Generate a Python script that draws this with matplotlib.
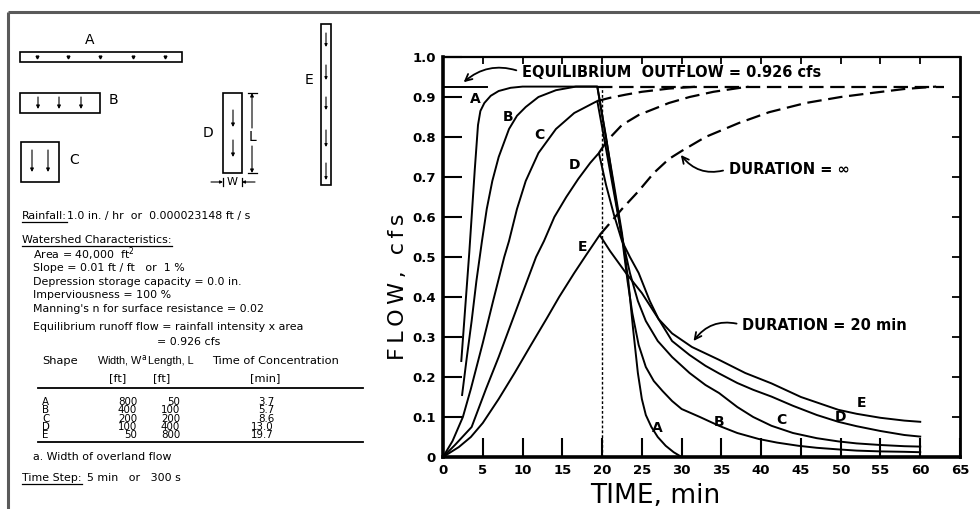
"""
Overland flow hydrographs for five watershed shapes (A-E) of equal area,
20-min storm vs. storm of infinite duration.
"""

import matplotlib
matplotlib.use("Agg")
import matplotlib.pyplot as plt
from matplotlib.patches import Rectangle

# =============================================================================
# VALUES
# =============================================================================

eq_flow = 0.926   # cfs, equilibrium outflow
storm_end = 20    # min, rainfall duration

# duration = 20 min hydrographs: time (min), flow (cfs)
a_time = [2.3, 3.3, 4.0, 4.4, 4.7, 5.2, 6.0, 7.0, 8.5, 10.0, 19.4,
          20.3, 21.5, 22.5, 23.3, 23.9, 24.5, 25.0, 25.5, 26.2, 27.0, 28.0, 29.0, 30.0]
a_flow = [0.24, 0.51, 0.72, 0.83, 0.865, 0.885, 0.903, 0.915, 0.923, 0.926, 0.926,
          0.82, 0.68, 0.56, 0.44, 0.32, 0.21, 0.145, 0.105, 0.075, 0.05, 0.028, 0.012, 0.0]

b_time = [2.4, 3.0, 3.6, 4.2, 4.9, 5.5, 6.2, 7.0, 8.3, 9.3, 10.4, 12.0, 14.2, 16.7, 19.4,
          20.5, 21.5, 22.5, 23.2, 23.8, 24.6, 25.5, 26.5, 27.6, 28.8, 30.0, 32.3, 34.7,
          37.0, 39.7, 42.0, 44.7, 47.0, 49.7, 52.0, 55.0, 58.0, 60.0]
b_flow = [0.155, 0.25, 0.34, 0.44, 0.54, 0.62, 0.69, 0.75, 0.82, 0.853, 0.875, 0.90, 0.917, 0.926, 0.926,
          0.80, 0.67, 0.55, 0.44, 0.36, 0.28, 0.225, 0.19, 0.165, 0.14, 0.12, 0.10, 0.078,
          0.06, 0.045, 0.036, 0.028, 0.023, 0.019, 0.016, 0.014, 0.013, 0.012]

c_time = [0, 1.2, 2.5, 3.5, 5.0, 6.3, 7.7, 8.3, 9.3, 10.4, 12.0, 14.2, 16.5, 19.4,
          20.5, 21.5, 22.5, 23.5, 24.5, 25.5, 27.0, 28.8, 31.0, 33.0, 34.7, 37.0, 39.0,
          41.3, 44.0, 47.0, 49.7, 52.0, 55.0, 58.0, 60.0]
c_flow = [0, 0.04, 0.10, 0.17, 0.285, 0.39, 0.50, 0.54, 0.62, 0.69, 0.76, 0.82, 0.86, 0.89,
          0.77, 0.66, 0.55, 0.46, 0.39, 0.34, 0.29, 0.25, 0.21, 0.18, 0.16, 0.125, 0.10,
          0.078, 0.06, 0.047, 0.039, 0.034, 0.03, 0.027, 0.026]

d_time = [0, 1.5, 3.6, 5.4, 7.0, 8.5, 10.0, 11.7, 12.7, 14.0, 15.5, 17.0, 18.5, 19.6,
          20.5, 21.5, 22.5, 23.5, 24.6, 26.0, 27.1, 28.8, 31.0, 33.0, 34.7, 37.0, 39.0,
          41.3, 44.0, 47.0, 49.7, 52.0, 55.0, 58.0, 60.0]
d_flow = [0, 0.03, 0.075, 0.17, 0.25, 0.33, 0.41, 0.50, 0.54, 0.60, 0.65, 0.695, 0.735, 0.76,
          0.68, 0.605, 0.54, 0.50, 0.46, 0.39, 0.345, 0.29, 0.255, 0.228, 0.209, 0.185, 0.168,
          0.151, 0.128, 0.105, 0.088, 0.077, 0.065, 0.055, 0.051]

e_time = [0, 2.0, 3.5, 5.0, 7.0, 9.0, 11.0, 13.0, 14.6, 16.5, 18.0, 19.7,
          21.0, 23.0, 25.0, 27.1, 28.8, 31.3, 34.7, 38.0, 41.3, 45.0, 49.7, 52.0, 55.0, 58.0, 60.0]
e_flow = [0, 0.025, 0.05, 0.085, 0.145, 0.21, 0.278, 0.345, 0.40, 0.46, 0.505, 0.555,
          0.515, 0.46, 0.41, 0.345, 0.309, 0.275, 0.243, 0.21, 0.184, 0.15, 0.118, 0.108, 0.098, 0.091, 0.088]

# duration = infinity (dashed) continuations
c_inf_time = [19.4, 21.0, 23.0, 25.0, 28.4, 32.0]
c_inf_flow = [0.89, 0.898, 0.906, 0.913, 0.921, 0.926]
d_inf_time = [19.6, 20.6, 22.5, 24.6, 26.5, 28.4, 31.0, 34.0, 38.4]
d_inf_flow = [0.76, 0.79, 0.83, 0.855, 0.87, 0.885, 0.90, 0.913, 0.926]
e_inf_time = [19.7, 21.0, 22.5, 24.6, 26.5, 28.4, 30.0, 33.0, 37.2, 41.0, 45.6, 50.0, 53.9, 58.0, 62.0]
e_inf_flow = [0.555, 0.585, 0.62, 0.665, 0.71, 0.745, 0.765, 0.80, 0.835, 0.862, 0.885, 0.90, 0.91, 0.92, 0.926]
eq_dash_time = [19.5, 63.0]

# curve letters and where they sit
shape_letters = ["A", "B", "C", "D", "E"]
rise_lab_t = [4.1, 8.2, 12.1, 16.5, 17.6]
rise_lab_q = [0.895, 0.85, 0.805, 0.73, 0.525]
fall_lab_t = [26.9, 34.7, 42.6, 50.0, 52.6]
fall_lab_q = [0.072, 0.088, 0.092, 0.10, 0.135]

# table on the left
tab_width = [800, 400, 200, 100, 50]
tab_length = [50, 100, 200, 400, 800]
tab_tc = ["3.7", "5.7", "8.6", "13.0", "19.7"]

x_ticks = list(range(0, 70, 5))
y_ticks = [0, 0.1, 0.2, 0.3, 0.4, 0.5, 0.6, 0.7, 0.8, 0.9, 1.0]
y_tick_labels = ["0", "0.1", "0.2", "0.3", "0.4", "0.5", "0.6", "0.7", "0.8", "0.9", "1.0"]

# =============================================================================
# FIGURE
# =============================================================================

W, H = 980, 509
fig = plt.figure(figsize=(9.8, 5.09), dpi=100)

# overlay in pixel coordinates for border, sketches and notes
bg = fig.add_axes([0, 0, 1, 1])
bg.set_xlim(0, W)
bg.set_ylim(H, 0)
bg.axis("off")

bg.plot([8, 8], [12, H], color="#5a5a5a", lw=2.2, solid_capstyle="butt")
bg.plot([8, W], [12, 12], color="#5a5a5a", lw=2.2, solid_capstyle="butt")


def small_arrow(x0, y0, x1, y1, ms=5):
    bg.annotate("", xy=(x1, y1), xytext=(x0, y0),
                arrowprops=dict(arrowstyle="-|>", lw=0.8, color="k",
                                mutation_scale=ms, shrinkA=0, shrinkB=0))


def box(x, y, w, h):
    bg.add_patch(Rectangle((x, y), w, h, fill=False, lw=1.2, ec="k"))


sk = dict(fontsize=10, family="DejaVu Sans", ha="center", va="center")
# A
box(20, 52, 162, 10)
bg.plot([37, 68, 100, 133, 165], [57] * 5, "v", color="k", ms=2)
bg.text(90, 40, "A", **sk)
# B
box(20, 93, 80, 20)
for xx in [38, 59, 81]:
    small_arrow(xx, 97, xx, 109)
bg.text(113, 100, "B", **sk)
# C
box(21, 142, 38, 40)
for xx in [32, 48]:
    small_arrow(xx, 150, xx, 172)
bg.text(74, 160, "C", **sk)
# D with dimensions
box(223, 93, 19, 80)
small_arrow(233, 110, 233, 127)
small_arrow(233, 140, 233, 157)
bg.text(208, 133, "D", **sk)
small_arrow(252, 128, 252, 93)
small_arrow(252, 146, 252, 173)
bg.plot([248, 257], [93, 93], color="k", lw=0.9)
bg.plot([248, 257], [173, 173], color="k", lw=0.9)
bg.text(252, 137, "L", **sk)
bg.plot([223, 223], [178, 186], color="k", lw=0.9)
bg.plot([242, 242], [178, 186], color="k", lw=0.9)
small_arrow(211, 182, 223, 182, ms=4)
small_arrow(255, 182, 242, 182, ms=4)
bg.text(232.5, 182, "W", fontsize=8, family="DejaVu Sans", ha="center", va="center")
# E
box(321, 24, 10, 161)
for y0, y1 in [(33, 47), (65, 80), (97, 110), (130, 147), (163, 180)]:
    small_arrow(326, y0, 326, y1, ms=4)
bg.text(309, 80, "E", **sk)

# notes
nt = dict(fontsize=7.9, family="DejaVu Sans", va="center", ha="left")
t_rain = bg.text(22, 216, "Rainfall:", **nt)
bg.text(67, 216, "1.0 in. / hr  or  0.000023148 ft / s", **nt)
t_ws = bg.text(22, 240, "Watershed Characteristics:", **nt)
notes = [
    (33, 254, "Area = 40,000  ft$^2$"),
    (33, 268, "Slope = 0.01 ft / ft   or  1 %"),
    (33, 282, "Depression storage capacity = 0.0 in."),
    (33, 295, "Imperviousness = 100 %"),
    (33, 309, "Manning's n for surface resistance = 0.02"),
    (33, 327, "Equilibrium runoff flow = rainfall intensity x area"),
    (157, 342, "= 0.926 cfs"),
]
for x, y, s in notes:
    bg.text(x, y, s, **nt)

tt = dict(fontsize=8.2, family="DejaVu Sans", va="center")
nn = dict(fontsize=7.8, family="Liberation Sans", va="center")
bg.text(42, 361, "Shape", ha="left", **tt)
bg.text(97, 361, "Width, W$^{\\rm a}$", ha="left", **nn)
bg.text(148, 361, "Length, L", ha="left", **nn)
bg.text(212, 361, "Time of Concentration", ha="left", **tt)
bg.text(118, 378, "[ft]", ha="center", **tt)
bg.text(162, 378, "[ft]", ha="center", **tt)
bg.text(265, 378, "[min]", ha="center", **tt)
bg.plot([38, 363], [388, 388], color="k", lw=1.3)
bg.plot([38, 363], [442, 442], color="k", lw=1.3)
rt = dict(fontsize=7.4, family="DejaVu Sans", va="center")
for i, letter in enumerate(shape_letters):
    yy = 402 + 8.3 * i
    bg.text(42, yy, letter, ha="left", **rt)
    bg.text(137, yy, str(tab_width[i]), ha="right", **rt)
    bg.text(180, yy, str(tab_length[i]), ha="right", **rt)
    bg.text(274, yy, tab_tc[i], ha="right", **rt)
bg.text(33, 457, "a. Width of overland flow", **nt)
t_step = bg.text(22, 478, "Time Step:", **nt)
bg.text(87, 478, "5 min   or   300 s", **nt)

# =============================================================================
# HYDROGRAPH PANEL
# =============================================================================

ax = fig.add_axes([443 / W, 1 - 457 / H, (960 - 443) / W, (457 - 57) / H])
ax.set_xlim(0, 65)
ax.set_ylim(0, 1.0)

for t, q in [(a_time, a_flow), (b_time, b_flow), (c_time, c_flow),
             (d_time, d_flow), (e_time, e_flow)]:
    ax.plot(t, q, color="k", lw=1.4, solid_joinstyle="round")

dash = dict(color="k", lw=1.6, dashes=(6.5, 3))
ax.plot(eq_dash_time, [eq_flow] * 2, **dash)
ax.plot(c_inf_time, c_inf_flow, **dash)
ax.plot(d_inf_time, d_inf_flow, **dash)
ax.plot(e_inf_time, e_inf_flow, **dash)
ax.plot([0, 5.5], [eq_flow] * 2, color="k", lw=1.4)
ax.plot([storm_end, storm_end], [0, eq_flow], color="k", lw=1.0, dashes=(2, 1.5))

lab = dict(fontsize=10, fontweight="bold", ha="center", va="center")
for i, letter in enumerate(shape_letters):
    ax.text(rise_lab_t[i], rise_lab_q[i], letter, **lab)
    ax.text(fall_lab_t[i], fall_lab_q[i], letter, **lab)

ann = dict(fontsize=10.5, fontweight="bold", ha="left", va="center")
arr = dict(arrowstyle="->", lw=1.3, shrinkA=2, shrinkB=0, mutation_scale=12,
           relpos=(0, 0.5))
ax.annotate("EQUILIBRIUM  OUTFLOW = 0.926 cfs", xy=(2.6, 0.937), xytext=(9.9, 0.962),
            arrowprops=dict(connectionstyle="arc3,rad=0.3", **arr), **ann)
ax.annotate("DURATION = \u221e", xy=(29.9, 0.755), xytext=(35.9, 0.72),
            arrowprops=dict(connectionstyle="arc3,rad=-0.35", **arr), **ann)
ax.annotate("DURATION = 20 min", xy=(31.5, 0.29), xytext=(37.6, 0.33),
            arrowprops=dict(connectionstyle="arc3,rad=0.35", **arr), **ann)

ax.set_xticks(x_ticks)
ax.set_xticklabels([str(v) for v in x_ticks])
ax.set_yticks(y_ticks)
ax.set_yticklabels(y_tick_labels)
ax.tick_params(direction="in", length=14, width=1.5, labelsize=9.5, pad=5)
for lbl in ax.get_xticklabels() + ax.get_yticklabels():
    lbl.set_fontweight("bold")

ax.spines["left"].set_linewidth(2.6)
ax.spines["bottom"].set_linewidth(2.6)
ax.spines["top"].set_linewidth(1.6)
ax.spines["right"].set_linewidth(2.0)

top = ax.secondary_xaxis("top")
top.set_xticks(x_ticks[1:-1])
top.tick_params(direction="in", length=5, width=1.3, labeltop=False)
right = ax.secondary_yaxis("right")
right.set_yticks(y_ticks[1:-1])
right.tick_params(direction="in", length=6, width=1.3, labelright=False)
for sp in list(top.spines.values()) + list(right.spines.values()):
    sp.set_visible(False)

fig.text(655 / W, 1 - 496 / H, "TIME, min", fontsize=19, ha="center", va="center")
fig.text(398 / W, 1 - 287 / H, "F\u2009L\u2009O\u2009W\u2009,\u2009 \u2009c\u2009f\u2009s",
         fontsize=16, rotation=90, ha="center", va="center")

# underlines under the headings
fig.canvas.draw()
inv = bg.transData.inverted()
for t in [t_rain, t_ws, t_step]:
    bb = t.get_window_extent()
    (x0, y0), (x1, y1) = inv.transform([[bb.x0, bb.y0], [bb.x1, bb.y1]])
    bg.plot([x0, x1], [y0 + 1, y0 + 1], color="k", lw=0.9)

fig.savefig("out.png", dpi=100)
